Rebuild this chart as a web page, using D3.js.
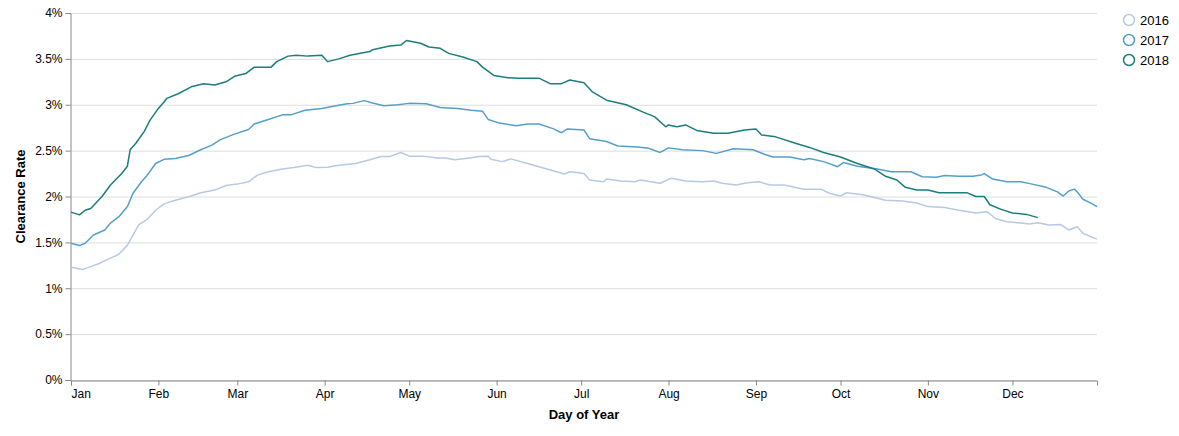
<!DOCTYPE html>
<html>
<head>
<meta charset="utf-8">
<script src="https://cdn.jsdelivr.net/npm/d3@7"></script>
<style>
  body { margin: 0; background: #fff; }
  svg { display: block; font-family: "Liberation Sans", Arial, sans-serif; }
</style>
</head>
<body>
<div id="chart"></div>
<script>
// day of year (0 = Jan 1) and clearance rate (%)
const days2016 = [0,4,6,10,13,17,20,22,24,27,30,33,37,42,46,51,55,59,63,66,70,75,79,84,87,91,95,101,106,110,113,117,120,125,130,133,136,140,145,148,149,153,156,162,166,171,175,177,182,184,189,190,195,200,202,209,213,218,224,228,231,236,240,244,248,253,260,266,269,273,275,281,285,289,295,300,304,310,315,321,325,328,332,337,340,343,347,351,354,357,359,362,364];
const rate2016 = [1.23,1.205,1.225,1.27,1.315,1.37,1.47,1.58,1.69,1.75,1.85,1.92,1.96,2.00,2.04,2.07,2.12,2.135,2.16,2.23,2.27,2.30,2.315,2.34,2.315,2.32,2.34,2.36,2.40,2.435,2.435,2.48,2.44,2.44,2.42,2.42,2.40,2.415,2.435,2.44,2.405,2.38,2.41,2.36,2.325,2.28,2.245,2.27,2.25,2.18,2.16,2.19,2.17,2.16,2.18,2.145,2.20,2.17,2.16,2.17,2.145,2.125,2.15,2.16,2.125,2.125,2.08,2.08,2.035,2.005,2.04,2.02,1.99,1.96,1.95,1.93,1.89,1.88,1.85,1.82,1.835,1.76,1.725,1.71,1.70,1.715,1.69,1.695,1.635,1.67,1.60,1.56,1.535];

const days2017 = [0,3,5,8,12,14,17,20,22,25,27,30,33,37,42,46,50,53,58,63,65,70,75,78,83,89,94,98,100,104,107,111,116,120,126,131,137,142,146,148,152,158,162,166,171,174,176,182,184,190,194,201,205,209,212,217,224,229,235,242,246,249,255,260,262,267,272,274,279,286,291,298,302,307,310,315,320,323,324,327,332,337,341,346,350,352,354,356,357,359,362,364];
const rate2017 = [1.49,1.465,1.49,1.58,1.635,1.71,1.78,1.89,2.035,2.16,2.23,2.36,2.405,2.415,2.45,2.51,2.56,2.62,2.68,2.73,2.79,2.84,2.89,2.89,2.94,2.96,2.99,3.01,3.015,3.045,3.02,2.99,3.00,3.015,3.01,2.97,2.96,2.94,2.93,2.84,2.80,2.77,2.79,2.79,2.74,2.695,2.735,2.725,2.63,2.60,2.55,2.54,2.525,2.48,2.53,2.51,2.50,2.47,2.52,2.51,2.46,2.43,2.43,2.40,2.415,2.38,2.325,2.37,2.33,2.30,2.27,2.27,2.215,2.21,2.23,2.22,2.22,2.235,2.25,2.19,2.16,2.16,2.135,2.10,2.05,2.005,2.06,2.08,2.05,1.97,1.925,1.89];

const days2018 = [0,3,5,7,11,14,18,20,21,23,26,28,31,33,34,38,43,47,51,55,58,62,65,71,73,77,80,84,89,91,95,99,106,107,113,117,119,124,127,131,134,139,144,146,150,155,159,166,170,174,177,182,185,190,197,203,207,211,212,215,218,222,228,233,239,243,245,250,257,262,267,273,279,285,289,293,296,300,304,308,313,318,321,324,326,330,334,339,343];
const rate2018 = [1.83,1.80,1.85,1.87,2.00,2.125,2.25,2.33,2.51,2.58,2.71,2.83,2.96,3.03,3.07,3.12,3.20,3.23,3.215,3.25,3.31,3.34,3.41,3.41,3.47,3.53,3.54,3.53,3.54,3.47,3.50,3.54,3.58,3.60,3.64,3.65,3.70,3.67,3.63,3.615,3.56,3.52,3.47,3.41,3.32,3.295,3.29,3.29,3.23,3.23,3.27,3.24,3.14,3.05,3.00,2.92,2.87,2.76,2.78,2.76,2.78,2.72,2.69,2.69,2.725,2.735,2.67,2.65,2.58,2.535,2.48,2.43,2.36,2.30,2.22,2.18,2.10,2.07,2.07,2.04,2.04,2.04,2.00,2.00,1.91,1.86,1.82,1.805,1.77];

const years = ["2016", "2017", "2018"];
const colors = ["#b7c9e4", "#559fcb", "#1a7e7c"];
const yTicks = [0, 0.5, 1, 1.5, 2, 2.5, 3, 3.5, 4];

const width = 1179;
const height = 436;
const margin = { top: 13, right: 82, bottom: 56, left: 71 };

const series = [
  { year: years[0], days: days2016, rates: rate2016 },
  { year: years[1], days: days2017, rates: rate2017 },
  { year: years[2], days: days2018, rates: rate2018 }
];

const refYear = 2018;
const toDate = d => d3.utcDay.offset(new Date(Date.UTC(refYear, 0, 1)), d);

const svg = d3.select("#chart").append("svg")
  .attr("width", width)
  .attr("height", height);

const x = d3.scaleUtc()
  .domain([new Date(Date.UTC(refYear, 0, 1)), new Date(Date.UTC(refYear, 11, 31))])
  .range([margin.left, width - margin.right]);

const y = d3.scaleLinear()
  .domain([0, 4])
  .range([height - margin.bottom, margin.top]);

const color = d3.scaleOrdinal().domain(years).range(colors);

// grid
svg.append("g")
  .selectAll("line")
  .data(yTicks)
  .join("line")
  .attr("x1", margin.left)
  .attr("x2", width - margin.right)
  .attr("y1", d => y(d) + 0.5)
  .attr("y2", d => y(d) + 0.5)
  .attr("stroke", "#dddddd")
  .attr("stroke-width", 1);

// y axis
const yAxis = svg.append("g")
  .attr("transform", `translate(${margin.left - 0.5},0)`)
  .call(d3.axisLeft(y).tickValues(yTicks).tickSize(5).tickPadding(3).tickFormat(d => d + "%"));

// x axis
const xAxis = svg.append("g")
  .attr("transform", `translate(0,${height - margin.bottom + 0.5})`)
  .call(d3.axisBottom(x).ticks(d3.utcMonth.every(1)).tickSize(5).tickPadding(4).tickFormat(d3.utcFormat("%b")));

[yAxis, xAxis].forEach(a => {
  a.select(".domain").attr("stroke", "#888");
  a.selectAll(".tick line").attr("stroke", "#888");
  a.selectAll(".tick text").attr("fill", "#000").style("font-size", "12px").style("font-family", "Liberation Sans, Arial, sans-serif");
});
// first month label flush to the left edge
xAxis.selectAll(".tick text").filter((d, i) => i === 0).attr("text-anchor", "start");

// axis titles
svg.append("text")
  .attr("x", (margin.left + width - margin.right) / 2)
  .attr("y", 419)
  .attr("text-anchor", "middle")
  .style("font-size", "13px")
  .style("font-weight", "bold")
  .text("Day of Year");

svg.append("text")
  .attr("transform", `translate(25,${(margin.top + height - margin.bottom) / 2}) rotate(-90)`)
  .attr("text-anchor", "middle")
  .style("font-size", "13px")
  .style("font-weight", "bold")
  .text("Clearance Rate");

// lines
const line = d3.line()
  .x(d => x(toDate(d[0])))
  .y(d => y(d[1]));

svg.append("g")
  .selectAll("path")
  .data(series)
  .join("path")
  .attr("fill", "none")
  .attr("stroke", d => color(d.year))
  .attr("stroke-width", 1.5)
  .attr("stroke-linejoin", "round")
  .attr("d", d => line(d.days.map((day, i) => [day, d.rates[i]])));

// legend
const legend = svg.append("g")
  .attr("transform", "translate(1129,20)");

const item = legend.selectAll("g")
  .data(years)
  .join("g")
  .attr("transform", (d, i) => `translate(0,${i * 20})`);

item.append("circle")
  .attr("r", 5.5)
  .attr("fill", "none")
  .attr("stroke", d => color(d))
  .attr("stroke-width", 1.5);

item.append("text")
  .attr("x", 11)
  .attr("dy", "0.35em")
  .style("font-size", "13px")
  .text(d => d);
</script>
</body>
</html>
